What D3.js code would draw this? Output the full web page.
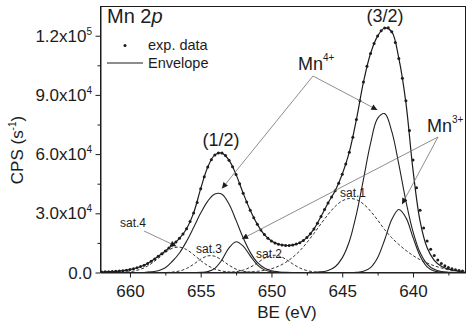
<!DOCTYPE html>
<html>
<head>
<meta charset="utf-8">
<script src="https://cdn.jsdelivr.net/npm/d3@7"></script>
<style>
  body { margin: 0; background: #fff; }
  svg { display: block; font-family: "Liberation Sans", Arial, sans-serif; }
</style>
</head>
<body>
<svg id="chart" width="474" height="325"></svg>
<script>
// binding energy sampling (eV): measured points every 0.25, fit curves every 0.5
const expBE = d3.range(662, 636.2, -0.25);
const fitBE = d3.range(662, 636.4, -0.5);

// measured Mn 2p counts
const expData = [
  300, 350, 420, 500, 600, 750, 950, 1200,
  1500, 1900, 2400, 3000, 3700, 4600, 5700, 6900,
  8200, 9500, 10900, 12400, 13900, 15500, 17300, 19500,
  22200, 25800, 30200, 35500, 42500, 48500, 53500, 57200,
  59600, 60600, 60500, 59300, 56900, 53600, 49600, 45000,
  40200, 35700, 31500, 27700, 24400, 21600, 19200, 17400,
  16000, 15000, 14300, 13900, 13700, 13700, 13900, 14400,
  15100, 16200, 17700, 19600, 22000, 24900, 28400, 31900,
  35200, 38200, 41400, 45200, 49800, 55000, 61000, 68500,
  77500, 87000, 96500, 104500, 111000, 116000, 119800, 122500,
  123900, 124000, 122000, 116500, 108500, 98500, 87000, 72000,
  57000, 43000, 31500, 22500, 16000, 11800, 8600, 6300,
  4600, 3400, 2500, 1900, 1400, 1000, 700, 500
];

const envelope = [
  300, 420, 600, 950, 1500, 2400, 3700, 5700,
  8200, 10900, 13900, 17300, 22200, 30200, 42500, 53500,
  59600, 60500, 56900, 49600, 40200, 31500, 24400, 19200,
  16000, 14300, 13700, 13900, 15100, 17700, 22000, 28400,
  35200, 41400, 49800, 61000, 77500, 96500, 111000, 119800,
  123900, 122000, 108500, 86000, 52000, 26000, 12500, 6200,
  3200, 1700, 1000, 500
];

// fitted components on fitBE
const mn4p32 = [
  0, 0, 0, 0, 0, 0, 0, 0,
  0, 0, 0, 0, 0, 0, 0, 0,
  0, 0, 0, 0, 0, 0, 0, 0,
  0, 0, 0, 0, 0, 0, 0, 300,
  1000, 2900, 7400, 15700, 29500, 47200, 65400, 78100,
  80500, 71500, 54800, 36200, 20700, 10100, 4300, 1600,
  500, 140, 30, 0
];
const mn3p32 = [
  0, 0, 0, 0, 0, 0, 0, 0,
  0, 0, 0, 0, 0, 0, 0, 0,
  0, 0, 0, 0, 0, 0, 0, 0,
  0, 0, 0, 0, 0, 0, 0, 0,
  0, 0, 0, 0, 110, 600, 2500, 7500,
  16600, 26800, 31900, 27800, 17800, 8400, 2900, 740,
  140, 0, 0, 0
];
const mn4p12 = [
  0, 0, 0, 0, 0, 0, 0, 300,
  900, 2400, 5700, 9900, 15800, 22800, 30100, 36200,
  39800, 39700, 34700, 26400, 17600, 10200, 5100, 2300,
  870, 290, 80, 0, 0, 0, 0, 0,
  0, 0, 0, 0, 0, 0, 0, 0,
  0, 0, 0, 0, 0, 0, 0, 0,
  0, 0, 0, 0
];
const mn3p12 = [
  0, 0, 0, 0, 0, 0, 0, 0,
  0, 0, 0, 0, 0, 0, 50, 440,
  2100, 6400, 12500, 15600, 13400, 8400, 3900, 1330,
  330, 60, 0, 0, 0, 0, 0, 0,
  0, 0, 0, 0, 0, 0, 0, 0,
  0, 0, 0, 0, 0, 0, 0, 0,
  0, 0, 0, 0
];
const sat1 = [
  0, 0, 0, 0, 0, 0, 0, 0,
  0, 0, 0, 0, 0, 0, 0, 0,
  0, 0, 0, 80, 160, 300, 600, 1100,
  1900, 3200, 5100, 7700, 11000, 15100, 19800, 24700,
  29400, 33500, 36300, 37500, 36900, 34700, 31100, 26600,
  21700, 17600, 14200, 11200, 8600, 6500, 4800, 3400,
  2300, 1400, 800, 400
];
const sat2 = [
  0, 0, 0, 0, 0, 0, 0, 0,
  0, 0, 0, 0, 0, 0, 0, 0,
  0, 0, 130, 430, 1190, 2670, 4850, 7190,
  8660, 8470, 6760, 4370, 2300, 990, 340, 90,
  0, 0, 0, 0, 0, 0, 0, 0,
  0, 0, 0, 0, 0, 0, 0, 0,
  0, 0, 0, 0
];
const sat3 = [
  0, 0, 0, 0, 0, 0, 0, 0,
  0, 0, 220, 760, 2030, 4190, 6730, 8430,
  8220, 6240, 3700, 1700, 610, 170, 40, 0,
  0, 0, 0, 0, 0, 0, 0, 0,
  0, 0, 0, 0, 0, 0, 0, 0,
  0, 0, 0, 0, 0, 0, 0, 0,
  0, 0, 0, 0
];
const sat4 = [
  0, 0, 40, 140, 420, 1080, 2350, 4440,
  7220, 10150, 12300, 12860, 11600, 9020, 6050, 3500,
  1750, 750, 280, 90, 0, 0, 0, 0,
  0, 0, 0, 0, 0, 0, 0, 0,
  0, 0, 0, 0, 0, 0, 0, 0,
  0, 0, 0, 0, 0, 0, 0, 0,
  0, 0, 0, 0
];

const xTicks = [660, 655, 650, 645, 640];
const xMinor = [657.5, 652.5, 647.5, 642.5, 637.5];
const yTicks = [0, 30000, 60000, 90000, 120000];
const yMinor = [15000, 45000, 75000, 105000];
const yTickText = [["0.0", ""], ["3.0x10", "4"], ["6.0x10", "4"], ["9.0x10", "4"], ["1.2x10", "5"]];

const svg = d3.select("#chart");
const ink = "#1c1c1c";

const x = d3.scaleLinear().domain([662.08, 636.29]).range([100.5, 465.5]);
const y = d3.scaleLinear().domain([0, 134800]).range([272.5, 6.5]);

svg.append("defs").append("clipPath").attr("id", "plot-clip")
  .append("rect")
  .attr("x", x.range()[0]).attr("y", y.range()[1])
  .attr("width", x.range()[1] - x.range()[0])
  .attr("height", y.range()[0] - y.range()[1]);

svg.select("defs").append("marker")
  .attr("id", "arrow")
  .attr("viewBox", "0 0 10 10")
  .attr("refX", 10).attr("refY", 5)
  .attr("markerWidth", 7).attr("markerHeight", 6)
  .attr("markerUnits", "userSpaceOnUse")
  .attr("orient", "auto")
  .append("path").attr("d", "M0,0L10,5L0,10z").attr("fill", ink);

// axes
const xAxis = svg.append("g")
  .attr("transform", `translate(0,${y.range()[0]})`)
  .call(d3.axisBottom(x).tickValues(xTicks).tickSize(5).tickSizeOuter(0).tickPadding(7).tickFormat(d3.format("d")));
svg.append("g")
  .attr("transform", `translate(0,${y.range()[0]})`)
  .call(d3.axisBottom(x).tickValues(xMinor).tickSize(3).tickSizeOuter(0).tickFormat(""))
  .select(".domain").remove();

svg.append("g")
  .attr("transform", `translate(${x.range()[0]},0)`)
  .call(d3.axisLeft(y).tickValues(yTicks).tickSize(5).tickSizeOuter(0).tickFormat(""));
svg.append("g")
  .attr("transform", `translate(${x.range()[0]},0)`)
  .call(d3.axisLeft(y).tickValues(yMinor).tickSize(3).tickSizeOuter(0).tickFormat(""))
  .select(".domain").remove();

svg.selectAll(".tick line, .domain").attr("stroke", ink);
xAxis.selectAll("text")
  .attr("fill", ink)
  .style("font-size", "17px")
  .style("font-family", "Liberation Sans, Arial, sans-serif");

// y tick labels with exponents
yTicks.forEach((v, i) => {
  const t = svg.append("text")
    .attr("x", 92).attr("y", y(v) + 6)
    .attr("text-anchor", "end")
    .attr("fill", ink)
    .style("font-size", "17px");
  t.append("tspan").text(yTickText[i][0]);
  if (yTickText[i][1]) {
    t.append("tspan").attr("dy", -7).style("font-size", "10px").text(yTickText[i][1]);
  }
});

// frame
svg.append("rect")
  .attr("x", x.range()[0]).attr("y", y.range()[1])
  .attr("width", x.range()[1] - x.range()[0])
  .attr("height", y.range()[0] - y.range()[1])
  .attr("fill", "none").attr("stroke", ink).attr("stroke-width", 1);

// axis titles
svg.append("text")
  .attr("x", 287).attr("y", 318)
  .attr("text-anchor", "middle").attr("fill", ink)
  .style("font-size", "17px")
  .text("BE (eV)");

const yTitle = svg.append("text")
  .attr("transform", "translate(23,150) rotate(-90)")
  .attr("text-anchor", "middle").attr("fill", ink)
  .style("font-size", "17px");
yTitle.append("tspan").text("CPS (s");
yTitle.append("tspan").attr("dy", -7).style("font-size", "10px").text("-1");
yTitle.append("tspan").attr("dy", 7).text(")");

// curves
const plot = svg.append("g").attr("clip-path", "url(#plot-clip)");
const fitLine = d3.line()
  .curve(d3.curveCatmullRom)
  .x((d, i) => x(fitBE[i]))
  .y(d => y(d));

const solids = [mn4p12, mn3p12, mn4p32, mn3p32];
const dashed = [sat1, sat2, sat3, sat4];

plot.selectAll("path.sat")
  .data(dashed)
  .join("path")
  .attr("class", "sat")
  .attr("d", fitLine)
  .attr("fill", "none")
  .attr("stroke", "#333")
  .attr("stroke-width", 1)
  .attr("stroke-dasharray", "3,2");

plot.selectAll("path.comp")
  .data(solids)
  .join("path")
  .attr("class", "comp")
  .attr("d", fitLine)
  .attr("fill", "none")
  .attr("stroke", "#222")
  .attr("stroke-width", 1.1);

plot.append("path")
  .datum(envelope)
  .attr("d", fitLine)
  .attr("fill", "none")
  .attr("stroke", ink)
  .attr("stroke-width", 1.2);

plot.append("g")
  .selectAll("circle")
  .data(expData)
  .join("circle")
  .attr("cx", (d, i) => x(expBE[i]))
  .attr("cy", d => y(d))
  .attr("r", 1.5)
  .attr("fill", ink);

// legend
const legendG = svg.append("g").attr("fill", ink);
const title = legendG.append("text").attr("x", 107).attr("y", 23).style("font-size", "20px");
title.append("tspan").text("Mn 2");
title.append("tspan").style("font-style", "italic").text("p");
legendG.append("circle").attr("cx", 125).attr("cy", 45.5).attr("r", 1.5);
legendG.append("text").attr("x", 148).attr("y", 50).style("font-size", "14.5px").text("exp. data");
legendG.append("line")
  .attr("x1", 107).attr("x2", 143).attr("y1", 63).attr("y2", 63)
  .attr("stroke", ink).attr("stroke-width", 1.1);
legendG.append("text").attr("x", 148).attr("y", 68).style("font-size", "14.5px").text("Envelope");

// peak position from the sampled curve (parabola through the top three samples)
function peakOf(values) {
  const i = d3.maxIndex(values);
  const a = values[i - 1], b = values[i], c = values[i + 1];
  const p = 0.5 * (a - c) / (a - 2 * b + c);
  return [x(fitBE[i] - 0.5 * p), y(b - 0.25 * (a - c) * p)];
}

function pointer(from, values, gap) {
  const [px, py] = peakOf(values);
  const dx = px - from[0], dy = py - from[1];
  const len = Math.hypot(dx, dy);
  svg.append("line")
    .attr("x1", from[0]).attr("y1", from[1])
    .attr("x2", px - gap * dx / len).attr("y2", py - gap * dy / len)
    .attr("stroke", "#707070").attr("stroke-width", 0.8)
    .attr("marker-end", "url(#arrow)");
}

const mn4From = [313, 76];
const mn3From = [438, 137];
pointer(mn4From, mn4p12, 6);
pointer(mn4From, mn4p32, 6);
pointer(mn3From, mn3p32, 6);
pointer(mn3From, mn3p12, 6);
pointer([144, 231], sat4, 2);

// annotations
const note = svg.append("g").attr("fill", ink);
note.append("text").attr("x", 221).attr("y", 146).attr("text-anchor", "middle").style("font-size", "18px").text("(1/2)");
note.append("text").attr("x", 385).attr("y", 22).attr("text-anchor", "middle").style("font-size", "18px").text("(3/2)");

const mn4Label = note.append("text").attr("x", 298).attr("y", 70).style("font-size", "18px");
mn4Label.append("tspan").text("Mn");
mn4Label.append("tspan").attr("dy", -9).style("font-size", "10px").text("4+");

const mn3Label = note.append("text").attr("x", 427).attr("y", 132).style("font-size", "18px");
mn3Label.append("tspan").text("Mn");
mn3Label.append("tspan").attr("dy", -9).style("font-size", "10px").text("3+");

const satLabels = [["sat.1", 340, 197], ["sat.2", 256, 258], ["sat.3", 196, 253], ["sat.4", 120, 227]];
note.selectAll("text.sat")
  .data(satLabels)
  .join("text")
  .attr("class", "sat")
  .attr("x", d => d[1]).attr("y", d => d[2])
  .style("font-size", "12px")
  .text(d => d[0]);
</script>
</body>
</html>
